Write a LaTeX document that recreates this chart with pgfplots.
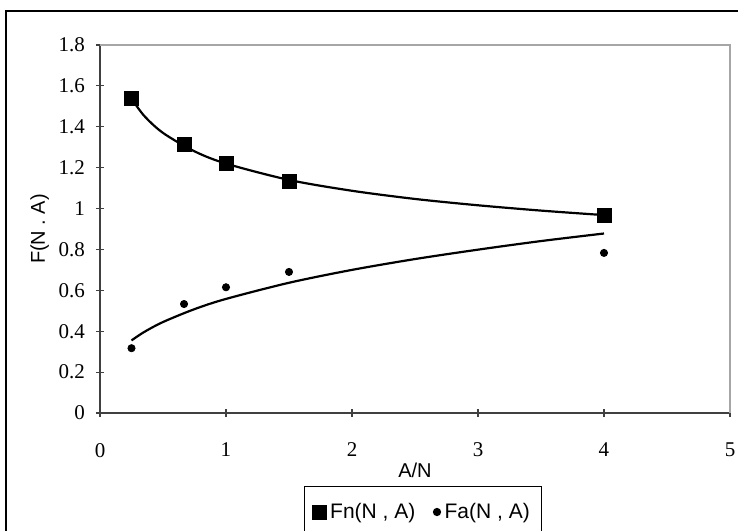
\documentclass[border=0pt]{standalone}
\usepackage{fontspec}
\setmainfont{Liberation Serif}
\newfontfamily\arial{Liberation Sans}
\usepackage{pgfplots}
\pgfplotsset{compat=1.18}

\begin{document}
\begin{tikzpicture}
\useasboundingbox (-50pt,-58.5pt) rectangle (319pt,206.5pt);
\draw[line width=0.8pt] (-47pt,-80pt) rectangle (340pt,201pt);
\begin{axis}[
  at={(0pt,0pt)}, anchor=origin,
  scale only axis,
  width=315pt, height=184pt,
  xmin=0, xmax=5, ymin=0, ymax=1.8,
  xtick={0,1,...,5},
  ytick={0,0.2,...,1.8},
  axis x line*=bottom, axis y line*=left,
  axis line style={-,line width=1pt,black!75},
  tick align=center,
  major tick length=4pt,
  tick style={black!75,line width=0.6pt},
  /pgf/number format/assume math mode=true,
  ticklabel style={font=\fontsize{10.5}{12}\selectfont},
  xticklabel style={yshift=-9.5pt},
  yticklabel style={xshift=-2pt},
  xlabel={\arial A/N},
  ylabel={\arial F(N . A)},
  label style={font=\fontsize{10}{12}\selectfont},
  xlabel style={yshift=4pt},
  ylabel style={yshift=-2pt},
  legend columns=2,
  legend style={at={(161.5pt,-49.5pt)}, anchor=center, draw=black, line width=0.5pt,
    font=\arial\fontsize{10.5}{12}\selectfont, inner xsep=4pt, inner ysep=6pt,
    /tikz/every even column/.append style={column sep=7pt}},
  legend cell align=left,
  clip=false,
]
\draw[gray!70,line width=0.6pt] (rel axis cs:0,1) -- (rel axis cs:1,1) -- (rel axis cs:1,0);

% trend curves
\addplot[black, line width=1.1pt, smooth, forget plot] coordinates {
(0.25,1.538)(0.35,1.454)(0.5,1.370)(0.75,1.280)(1,1.220)(1.5,1.140)
(2,1.087)(2.5,1.047)(3,1.016)(3.5,0.990)(4,0.968)};
\addplot[black, line width=1.1pt, smooth, forget plot] coordinates {
(0.25,0.355)(0.35,0.396)(0.5,0.445)(0.75,0.508)(1,0.558)(1.5,0.637)
(2,0.700)(2.5,0.753)(3,0.799)(3.5,0.841)(4,0.878)};

% data points
\addplot[only marks, mark=square*, mark size=3.5pt, black] coordinates {
(0.25,1.541)(0.667,1.313)(1,1.222)(1.5,1.135)(4,0.965)};
\addlegendentry{Fn(N , A)}
\addplot[only marks, mark=*, mark size=1.8pt, black] coordinates {
(0.25,0.317)(0.667,0.533)(1,0.615)(1.5,0.690)(4,0.783)};
\addlegendentry{Fa(N , A)}
\end{axis}
\end{tikzpicture}
\end{document}
